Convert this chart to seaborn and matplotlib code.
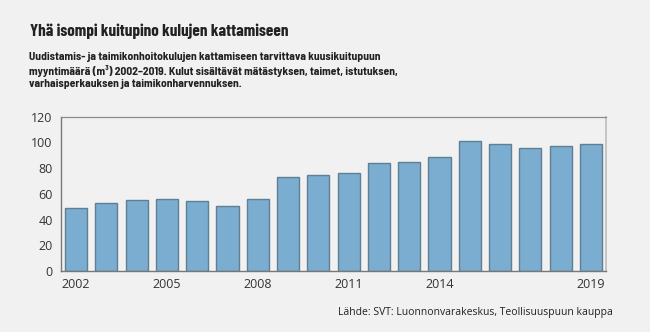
import matplotlib
matplotlib.use("Agg")
import matplotlib.pyplot as plt
import seaborn as sns
import pandas as pd
import numpy as np

years = [str(y) for y in range(2002, 2020)]
values = [49.2, 52.6, 55.1, 55.7, 54.1, 50.2, 55.7, 72.8, 74.3, 76.4,
          83.6, 84.4, 88.8, 101.0, 98.4, 95.5, 97.3, 98.9]
shown_labels = ["2002", "2005", "2008", "2011", "2014", "2019"]
y_ticks = [0, 20, 40, 60, 80, 100, 120]

title = "Yhä isompi kuitupino kulujen kattamiseen"
subtitle = ("Uudistamis- ja taimikonhoitokulujen kattamiseen tarvittava kuusikuitupuun\n"
            "myyntimäärä (m³) 2002–2019. Kulut sisältävät mätästyksen, taimet, istutuksen,\n"
            "varhaisperkauksen ja taimikonharvennuksen.")
source = "Lähde: SVT: Luonnonvarakeskus, Teollisuuspuun kauppa"

sns.set_theme(style="white")
plt.rcParams['font.family'] = ['Open Sans', 'DejaVu Sans']
bg = "#f1f1f1"
cond_title = ["Barlow Condensed", "DejaVu Sans"]
cond_sub = ["Barlow Semi Condensed", "Barlow Condensed", "DejaVu Sans"]

df = pd.DataFrame({"year": years, "value": values})

fig = plt.figure(figsize=(6.5, 3.32), dpi=100, facecolor=bg)
ax = fig.add_axes([0.0938, 0.1837, 0.8385, 0.4653])
ax.set_facecolor(bg)

sns.barplot(data=df, x="year", y="value", color="#7aadd0", saturation=1,
            width=0.73, edgecolor="#5f7f95", linewidth=1.0, ax=ax, zorder=3)

ax.set_xlim(-0.5, len(years) - 0.5)
ax.set_ylim(0, 120)
ax.set_yticks(y_ticks)
ax.set_yticklabels([str(t) for t in y_ticks], fontsize=9, color="#333333")
ax.tick_params(axis="y", direction="in", length=10, width=1.5, color="#b5b5b5", pad=6)

pos = [years.index(l) for l in shown_labels]
ax.set_xticks(pos)
ax.set_xticklabels(shown_labels, fontsize=9, color="#333333")
ax.tick_params(axis="x", which="major", length=0, pad=5)
ax.set_xticks(np.arange(0.5, len(years) - 0.5, 1), minor=True)
ax.tick_params(axis="x", which="minor", direction="in", length=3, width=0.8, color="#777777")
ax.set_xlabel("")
ax.set_ylabel("")

for s in ["left", "bottom"]:
    ax.spines[s].set_color("#777777")
    ax.spines[s].set_linewidth(1.0)
ax.spines["top"].set_color("#8a8a8a")
ax.spines["top"].set_linewidth(0.9)
ax.spines["right"].set_color("#bdbdbd")
ax.spines["right"].set_linewidth(1.2)
for s in ax.spines.values():
    s.set_visible(True)
    s.set_zorder(4)

fig.text(30 / 650, 1 - 36 / 332, title, fontsize=12.3, fontweight="bold",
         color="#222222", va="baseline", ha="left", family=cond_title)
fig.text(29 / 650, 1 - 52 / 332, subtitle, fontsize=8.3, fontweight="bold",
         color="#222222", va="top", ha="left", linespacing=1.3, family=cond_sub)
fig.text(613 / 650, 1 - 313 / 332, source, fontsize=7.5, color="#222222",
         va="center", ha="right")

fig.savefig("out.png", dpi=100, facecolor=bg)
